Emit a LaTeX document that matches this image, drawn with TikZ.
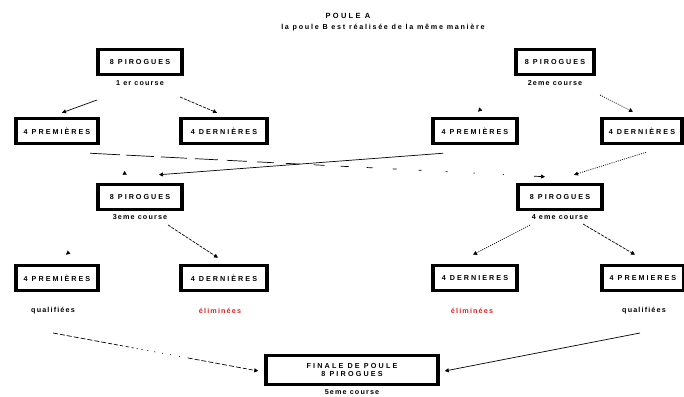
\documentclass[tikz,border=0pt]{standalone}
\usepackage{fontspec}
\setmainfont{Liberation Sans}
\usetikzlibrary{arrows.meta}
\definecolor{elimred}{RGB}{225,35,35}
\tikzset{
   pirogue/.style ={
      rectangle, draw, line width=3.5pt, inner sep=0pt,
      font=\fontsize{7.2}{8.5}\selectfont\bfseries\addfontfeature{LetterSpace=28},
      minimum height=25pt, minimum width=82pt,
   },
   course/.style ={
      inner sep=0pt, font=\fontsize{7.2}{8}\selectfont\bfseries\addfontfeature{LetterSpace=16},
   },
   arrow/.style ={
      ->, line width=0.7pt, color=black,
   },
   dasharrow/.style ={arrow, dash pattern=on 3pt off 1.2pt},
   dotarrow/.style ={arrow, dash pattern=on 1pt off 1.2pt},
   ghostarrow/.style ={arrow, dash pattern=on 0pt off 600pt},
   longfade/.style ={arrow, dash pattern=on 30pt off 6pt on 28pt off 7pt on 26pt off 8pt on 23pt off 9pt on 20pt off 10pt on 17pt off 12pt on 14pt off 14pt on 11pt off 16pt on 8pt off 18pt on 6pt off 20pt on 4pt off 22pt on 3pt off 24pt on 2pt off 26pt on 1.5pt off 28pt on 1pt off 30pt},
   shortfade/.style ={arrow, dash pattern=on 5pt off 2pt on 5pt off 2pt on 5pt off 2pt on 5pt off 2pt on 5pt off 2pt on 5pt off 2pt on 5pt off 2pt on 5pt off 2pt on 4pt off 2pt on 4pt off 2pt on 3pt off 3pt on 3pt off 3pt on 2pt off 3pt on 1pt off 4pt on 1pt off 5pt on 1pt off 6pt on 1pt off 7pt on 1pt off 7pt on 1pt off 8pt on 1pt off 8pt},
   >={Triangle[length=4pt,width=4pt]},
}

\begin{document}
\begin{tikzpicture}[x=1pt,y=1pt]

      \useasboundingbox (0,0) rectangle (684,396);

      % titre
      \node[course, font=\fontsize{7.5}{8}\selectfont\bfseries\addfontfeature{LetterSpace=30}] (titre) at (348,380) {POULE A};
      \node[course, font=\fontsize{7.2}{8}\selectfont\bfseries\addfontfeature{LetterSpace=24}] (soustitre) at (383,368) {la poule B est r\'ealis\'ee de la m\^eme mani\`ere};

      % premiere et deuxieme course
      \node[pirogue, minimum width=84pt] (courseA) at (140,334) {8 PIROGUES};
      \node[course] (labelA) at (140,313) {1 er course};
      \node[pirogue, minimum width=78pt] (courseB) at (555,334) {8 PIROGUES};
      \node[course] (labelB) at (555,313) {2eme course};

      \node[pirogue] (premA) at (57,265) {4 PREMI\`ERES};
      \node[pirogue, minimum width=86pt] (dernA) at (224,265) {4 DERNI\`ERES};
      \node[pirogue, minimum width=84pt] (premB) at (475,265) {4 PREMI\`ERES};
      \node[pirogue, minimum width=80pt] (dernB) at (642,265) {4 DERNI\`ERES};

      % troisieme et quatrieme course
      \node[pirogue, minimum width=84pt] (courseC) at (140,199) {8 PIROGUES};
      \node[course] (labelC) at (140,179) {3eme course};
      \node[pirogue, minimum width=84pt] (courseD) at (560,199) {8 PIROGUES};
      \node[course] (labelD) at (560,179) {4 eme course};

      \node[pirogue] (premC) at (57,118) {4 PREMI\`ERES};
      \node[pirogue, minimum width=86pt] (dernC) at (224,118) {4 DERNI\`ERES};
      \node[pirogue, minimum width=84pt] (dernD) at (475,118) {4 DERNIERES};
      \node[pirogue, minimum width=82pt] (premD) at (643,118) {4 PREMIERES};

      \node[course] (qualC) at (53,85) {qualifi\'ees};
      \node[course, text=elimred] (elimC) at (220,85) {\'elimin\'ees};
      \node[course, text=elimred] (elimD) at (472,85) {\'elimin\'ees};
      \node[course] (qualD) at (644,85) {qualifi\'ees};

      % finale
      \node[pirogue, minimum width=172pt, minimum height=29pt, align=center,
         font=\fontsize{7.2}{8}\selectfont\bfseries\addfontfeature{LetterSpace=30}] (finale) at (352,26) {FINALE DE POULE\\8 PIROGUES};
      \node[course] (labelF) at (352,4) {5eme course};

      \draw[arrow]      ([xshift=-43pt,yshift=-17pt]labelA.center) -- ([xshift=5pt,yshift=4pt]premA.north);
      \draw[dasharrow]  ([xshift=40pt,yshift=-14pt]labelA.center)  -- ([xshift=-7pt,yshift=4pt]dernA.north);
      \draw[ghostarrow] ([xshift=-60pt,yshift=-12pt]labelB.center) -- ([xshift=3pt,yshift=5pt]premB.north);
      \draw[dotarrow]   ([xshift=45pt,yshift=-12pt]labelB.center)  -- ([xshift=-9pt,yshift=5pt]dernB.north);

      \draw[longfade]   ([xshift=33pt,yshift=-8pt]premA.south)  -- ([xshift=-15pt,yshift=6pt]courseD.north);
      \draw[arrow]      ([xshift=-32pt,yshift=-8pt]premB.south) -- ([xshift=19pt,yshift=8pt]courseC.north);
      \draw[ghostarrow] ([xshift=30pt,yshift=-8pt]premA.south)  -- ([xshift=-13pt,yshift=8pt]courseC.north);
      \draw[dotarrow]   ([xshift=4pt,yshift=-7pt]dernB.south)   -- ([xshift=14pt,yshift=8pt]courseD.north);

      \draw[dasharrow]  ([xshift=28pt,yshift=-8pt]labelC.center)  -- ([xshift=-6pt,yshift=6pt]dernC.north);
      \draw[ghostarrow] ([xshift=-40pt,yshift=-8pt]labelC.center) -- ([xshift=9pt,yshift=9pt]premC.north);
      \draw[dotarrow]   ([xshift=-30pt,yshift=-8pt]labelD.center) -- ([xshift=-2pt,yshift=9pt]dernD.north);
      \draw[dasharrow]  ([xshift=23pt,yshift=-7pt]labelD.center)  -- ([xshift=-8pt,yshift=9pt]premD.north);

      \draw[shortfade]  ([yshift=-22pt]qualC.center) -- ([xshift=-6pt,yshift=-1pt]finale.west);
      \draw[arrow]      ([xshift=-4pt,yshift=-22pt]qualD.center) -- ([xshift=5pt,yshift=-1pt]finale.east);

   \end{tikzpicture}
\end{document}
